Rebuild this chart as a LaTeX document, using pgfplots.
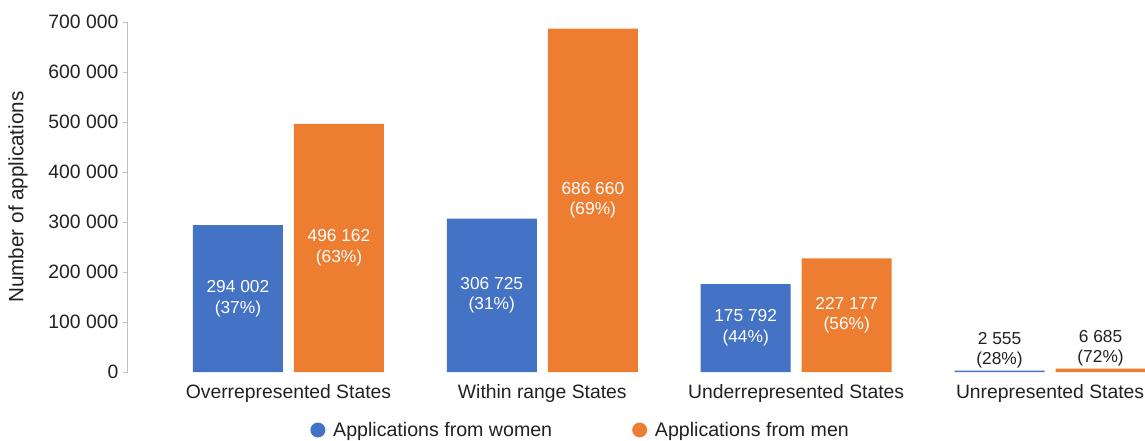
\documentclass[border=0pt]{standalone}
\usepackage{fontspec}
\setmainfont{Liberation Sans}
\usepackage{pgfplots}
\pgfplotsset{compat=1.18}
\definecolor{blueC}{RGB}{68,114,196}
\definecolor{orangeC}{RGB}{237,125,49}
\definecolor{txt}{RGB}{33,33,33}
\definecolor{axisg}{RGB}{191,191,191}
\begin{document}
\begin{tikzpicture}
\useasboundingbox (-96pt,-51pt) rectangle (762.75pt,279pt);
\begin{axis}[
  scale only axis, width=762.75pt, height=262.5pt,
  xmin=-0.632, xmax=3.374, ymin=0, ymax=700000,
  ybar=8.25pt, bar width=67.5pt,
  axis lines*=left,
  x axis line style={draw=none},
  y axis line style={axisg, line width=0.75pt},
  xtick={0,1,2,3},
  xticklabels={Overrepresented States, Within range States, Underrepresented States, Unrepresented States},
  x tick style={draw=none},
  ytick={0,100000,200000,300000,400000,500000,600000,700000},
  y tick style={axisg, line width=0.75pt},
  tick align=outside,
  major tick length=3.75pt,
  scaled y ticks=false,
  /pgf/number format/fixed,
  /pgf/number format/1000 sep={\ },
  /pgf/number format/assume math mode=true,
  ticklabel style={font=\fontsize{14.5}{17}\selectfont, text=txt},
  xticklabel style={yshift=-2pt},
  every axis y label/.style={at={(axis description cs:0,0.5)}, xshift=-82.5pt, rotate=90, anchor=center},
  ylabel={Number of applications},
  ylabel style={font=\fontsize{15.5}{18}\selectfont, text=txt},
  legend columns=2,
  legend style={draw=none, at={(axis description cs:0.4454,-0.1657)}, anchor=center,
    font=\fontsize{14.7}{17}\selectfont, text=txt,
    /tikz/every even column/.append style={column sep=58pt}},
]
\addplot[fill=blueC, draw=none, legend image code/.code={\fill[blueC] (0pt,0pt) circle (5.6pt); \path (0pt,0pt) -- (9.5pt,0pt);}]
  coordinates {(0,294002) (1,306725) (2,175792) (3,2555)};
\addplot[fill=orangeC, draw=none, legend image code/.code={\fill[orangeC] (0pt,0pt) circle (5.6pt); \path (0pt,0pt) -- (9.5pt,0pt);}]
  coordinates {(0,496162) (1,686660) (2,227177) (3,6685)};
\legend{Applications from women, Applications from men}

\begin{scope}[every node/.style={white, align=center, font=\fontsize{13}{15.6}\selectfont}]
\node at (axis cs:-0.199,147001) {294 002\\(37\%)};
\node at (axis cs:0.199,248081) {496 162\\(63\%)};
\node at (axis cs:0.801,153362) {306 725\\(31\%)};
\node at (axis cs:1.199,343330) {686 660\\(69\%)};
\node at (axis cs:1.801,87896) {175 792\\(44\%)};
\node at (axis cs:2.199,113588) {227 177\\(56\%)};
\end{scope}
\begin{scope}[every node/.style={text=txt, align=center, anchor=south, inner sep=1.5pt, font=\fontsize{13}{15.6}\selectfont}]
\node at (axis cs:2.801,2555) {2 555\\(28\%)};
\node at (axis cs:3.199,6685) {6 685\\(72\%)};
\end{scope}
\end{axis}
\end{tikzpicture}
\end{document}
